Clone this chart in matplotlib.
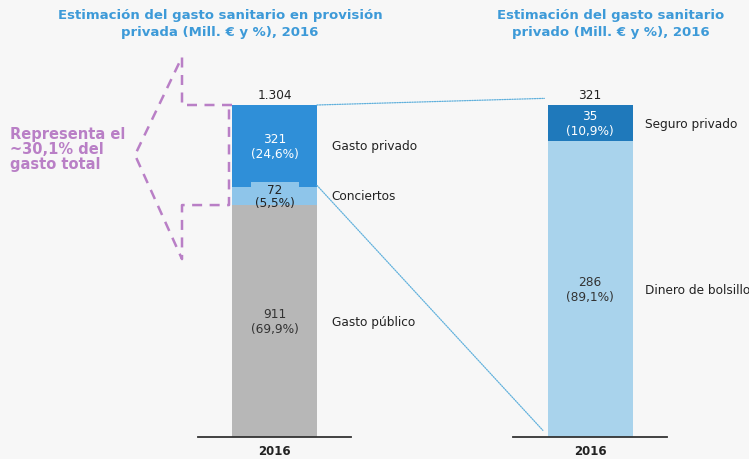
import matplotlib.pyplot as plt
from matplotlib.patches import ConnectionPatch

# datos (Mill. € y %), 2016
left_labels = ["Gasto público", "Conciertos", "Gasto privado"]
left_values = [911, 72, 321]
left_pcts = ["69,9%", "5,5%", "24,6%"]
left_total = "1.304"

right_labels = ["Dinero de bolsillo", "Seguro privado"]
right_values = [286, 35]
right_pcts = ["89,1%", "10,9%"]
right_total = "321"

year = "2016"

left_colors = ["#b7b7b7", "#8ec5ea", "#2f8fd8"]
left_text_colors = ["#333333", "#222222", "white"]
right_colors = ["#a9d3ec", "#1f79bb"]
right_text_colors = ["#333333", "white"]

TITLE_COLOR = "#3d9ad8"
PURPLE = "#b97fc6"
LINK_COLOR = "#5fb0dc"
BG = "#f7f7f7"

W, H = 749, 460
BASE_Y = 438   # línea base (px desde arriba)
TOP_Y = 106    # tope de las barras
AX_TOP = 60


def fig_box(x0, x1):
    return [x0 / W, (H - BASE_Y) / H, (x1 - x0) / W, (BASE_Y - AX_TOP) / H]


fig = plt.figure(figsize=(W / 100, H / 100), dpi=100)
fig.patch.set_facecolor(BG)
plt.rcParams["font.family"] = "DejaVu Sans"

ax1 = fig.add_axes(fig_box(198, 351))
ax2 = fig.add_axes(fig_box(513, 667))

bar_w1 = 85 / 153
bar_w2 = 85 / 154
lab_x1 = 57 / 153    # posición de las etiquetas de categoría
lab_x2 = 55 / 154


def setup(ax, total, bar_w):
    ax.set_facecolor("none")
    ax.set_xlim(-0.5, 0.5)
    ax.set_ylim(0, total * (BASE_Y - AX_TOP) / (BASE_Y - TOP_Y))
    for s in ["top", "right", "left"]:
        ax.spines[s].set_visible(False)
    ax.spines["bottom"].set_color("#333333")
    ax.spines["bottom"].set_linewidth(1.3)
    ax.set_yticks([])
    ax.set_xticks([0])
    ax.set_xticklabels([year], fontsize=8.5, fontweight="bold", color="#222222")
    ax.tick_params(axis="x", length=0, pad=5)


# barra izquierda
total1 = sum(left_values)
setup(ax1, total1, bar_w1)
yu1 = ax1.get_ylim()[1] / (BASE_Y - AX_TOP)   # unidades de datos por pixel
bottom = 0
for lab, v, p, c, tc in zip(left_labels, left_values, left_pcts, left_colors, left_text_colors):
    ax1.bar(0, v, width=bar_w1, bottom=bottom, color=c, linewidth=0)
    mid = bottom + v / 2
    if lab == "Conciertos":
        # pequeña pestaña detrás del valor
        ax1.bar(0, 8 * yu1, width=48 / 153, bottom=bottom + v - 3 * yu1, color=c,
                linewidth=0, zorder=2)
        ax1.text(0, mid, f"{v}\n({p})", ha="center", va="center", fontsize=8.7, color=tc,
                 linespacing=1.05, zorder=4)
    else:
        ax1.text(0, mid, f"{v}\n({p})", ha="center", va="center", fontsize=8.7, color=tc,
                 linespacing=1.15)
    ax1.text(lab_x1, mid, lab, ha="left", va="center", fontsize=8.7, color="#222222",
             clip_on=False)
    bottom += v
ax1.text(0, total1 * 1.012, left_total, ha="center", va="bottom", fontsize=8.7, color="#222222")

# barra derecha
total2 = sum(right_values)
setup(ax2, total2, bar_w2)
bottom = 0
for lab, v, p, c, tc in zip(right_labels, right_values, right_pcts, right_colors, right_text_colors):
    ax2.bar(0, v, width=bar_w2, bottom=bottom, color=c, linewidth=0)
    mid = bottom + v / 2
    ax2.text(0, mid, f"{v}\n({p})", ha="center", va="center", fontsize=8.7, color=tc,
             linespacing=1.15)
    ax2.text(lab_x2, mid, lab, ha="left", va="center", fontsize=8.7, color="#222222",
             clip_on=False)
    bottom += v
ax2.text(0, total2 * 1.012, right_total, ha="center", va="bottom", fontsize=8.7, color="#222222")

# líneas punteadas que unen las dos barras
con_top = ConnectionPatch(xyA=(bar_w1 / 2, total1), coordsA=ax1.transData,
                          xyB=(-bar_w2 / 2 - 0.02, total2 * 1.02), coordsB=ax2.transData,
                          color=LINK_COLOR, lw=0.9, ls=(0, (1, 1)))
con_bot = ConnectionPatch(xyA=(bar_w1 / 2, left_values[0] + left_values[1] + 5), coordsA=ax1.transData,
                          xyB=(-bar_w2 / 2 - 0.03, total2 * 0.02), coordsB=ax2.transData,
                          color=LINK_COLOR, lw=0.9, ls=(0, (1, 1)))
fig.add_artist(con_top)
fig.add_artist(con_bot)

# flecha morada discontinua (en coordenadas de ax1)
px = ax1.get_xlim()[1] - ax1.get_xlim()[0]
xu = px / 153           # unidades de datos por pixel en x
x_left = -bar_w1 / 2
x_in = x_left - 3 * xu
x_stem = x_left - 50 * xu
x_tip = x_left - 97 * xu
y_top = total1
y_low = left_values[0]
y_mid = (y_top + y_low) / 2
arrow_x = [x_left, x_stem, x_stem, x_tip, x_stem, x_stem, x_in, x_in]
arrow_y = [y_top, y_top, y_top + 48 * yu1, y_mid, y_low - 54 * yu1, y_low, y_low, y_top]
ax1.plot(arrow_x, arrow_y, color=PURPLE, lw=1.8, ls=(0, (4, 3)), clip_on=False)

fig.text(10 / W, 1 - 149 / H, "Representa el\n~30,1% del\ngasto total", ha="left", va="center",
         fontsize=10.5, fontweight="bold", color=PURPLE, linespacing=1.0)

# títulos
fig.text(220 / W, 1 - 24 / H, "Estimación del gasto sanitario en provisión\nprivada (Mill. € y %), 2016",
         ha="center", va="center", fontsize=9.5, fontweight="bold", color=TITLE_COLOR, linespacing=1.35)
fig.text(611 / W, 1 - 24 / H, "Estimación del gasto sanitario\nprivado (Mill. € y %), 2016",
         ha="center", va="center", fontsize=9.5, fontweight="bold", color=TITLE_COLOR, linespacing=1.35)

fig.savefig("out.png", dpi=100, facecolor=BG)
